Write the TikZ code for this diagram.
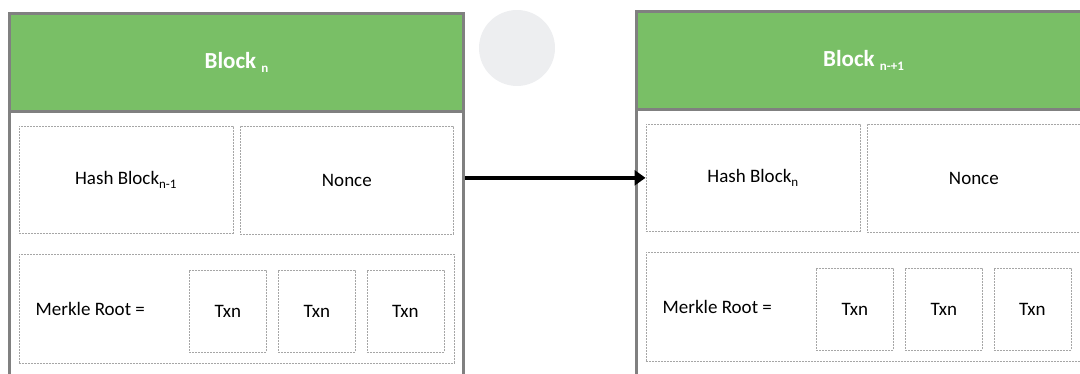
\documentclass[tikz,border=0pt]{standalone}
\usepackage{fontspec}
\setmainfont{Carlito}
\usetikzlibrary{positioning,arrows.meta}
\definecolor{blockgreen}{RGB}{121,191,102}
\definecolor{framegray}{RGB}{128,128,128}
\definecolor{dotgray}{RGB}{237,238,240}
\newcommand{\lowsub}[1]{\raisebox{-4pt}{\fontsize{13}{13}\selectfont #1}}

\begin{document}
\begin{tikzpicture}[x=1pt, y=-1pt,
    frame/.style={draw=framegray, line width=3pt, fill=white, inner sep=0pt, anchor=north west},
    header/.style={draw=framegray, line width=3pt, fill=blockgreen, text=white, inner sep=0pt,
        anchor=north west, minimum width=454pt, minimum height=98pt,
        font=\fontsize{23}{26}\selectfont\bfseries},
    field/.style={draw=gray!70, line width=0.7pt, dash pattern=on 2pt off 1pt, inner sep=0pt,
        anchor=north west, font=\fontsize{19}{22}\selectfont},
    label/.style={inner sep=0pt, font=\fontsize{19}{22}\selectfont},
    link/.style={line width=4pt, -{Triangle[length=11pt,width=15pt]}}]

\useasboundingbox (0,0) rectangle (1080,374);
\clip (0,0) rectangle (1080,374);

% faint dot between the blocks
\node[circle, fill=dotgray, minimum size=76pt, inner sep=0pt] (dot) at (517,48) {};

\foreach \b/\ox/\oy/\top/\prev in {A/8/12/{n}/{n-1}, B/635/10/{n-+1}/{n}} {
  \begin{scope}[shift={(\ox,\oy)}]
    \node[frame, minimum width=454pt, minimum height=370pt] (block\b) at (0,0) {};
    \node[header] (head\b) at (0,0) {Block \lowsub{\top}};
    \node[field, minimum width=214pt, minimum height=107pt] (hash\b) at (10.5,114)
        {Hash Block\lowsub{\prev}};
    \node[field, minimum width=213pt, minimum height=108pt] (nonce\b) at (232,114) {Nonce};
    \node[field, minimum width=435pt, minimum height=109pt] (merkle\b) at (10.5,242) {};
    \node[label, anchor=west] (root\b) at ([xshift=17pt]merkle\b.west) {Merkle Root =};
    \foreach \t/\tx in {1/181, 2/270, 3/358.5}
      \node[field, minimum width=77pt, minimum height=82pt] (txn\b\t) at (\tx,258) {Txn};
  \end{scope}
}

\draw[link] (hashB.west -| blockA.east) -- (hashB.west);

\end{tikzpicture}
\end{document}
